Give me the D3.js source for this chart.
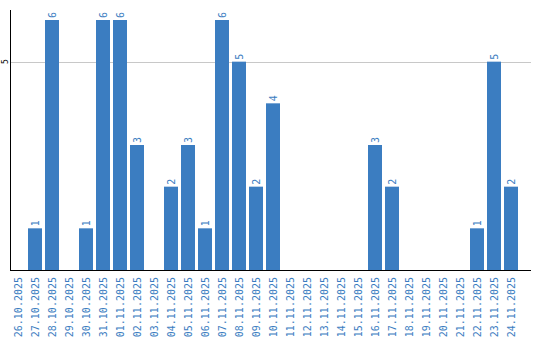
<!DOCTYPE html>
<html><head><meta charset="utf-8">
<script src="https://cdn.jsdelivr.net/npm/d3@7"></script>
<style>body{margin:0;background:#fff}</style>
</head><body><svg id="c" width="540" height="340"></svg>
<script>
const dates = ["26.10.2025","27.10.2025","28.10.2025","29.10.2025","30.10.2025","31.10.2025","01.11.2025","02.11.2025","03.11.2025","04.11.2025","05.11.2025","06.11.2025","07.11.2025","08.11.2025","09.11.2025","10.11.2025","11.11.2025","12.11.2025","13.11.2025","14.11.2025","15.11.2025","16.11.2025","17.11.2025","18.11.2025","19.11.2025","20.11.2025","21.11.2025","22.11.2025","23.11.2025","24.11.2025"];
const values = [0,1,6,0,1,6,6,3,0,2,3,1,6,5,2,4,0,0,0,0,0,3,2,0,0,0,0,1,5,2];
const yTicks = [5];

const svg = d3.select("#c");
const blue = "#3b7dc1";
const left = 11, bottom = 270;
const x = d3.scaleBand().domain(dates).range([left, left + 17*30]).paddingInner(3/17).paddingOuter(0).align(0);
const y = d3.scaleLinear().domain([0, 6.24]).range([bottom, 10]);

// gridline
svg.selectAll("line.grid").data(yTicks).enter().append("line")
  .attr("x1", left).attr("x2", 531).attr("y1", d => Math.round(y(d))+0.5).attr("y2", d => Math.round(y(d))+0.5)
  .attr("stroke", "#c8c8c8").attr("stroke-width", 1);

// y tick labels
svg.selectAll("text.yt").data(yTicks).enter().append("text")
  .attr("transform", d => `translate(8,${y(d)}) rotate(-90)`)
  .attr("text-anchor", "middle").attr("font-family", "DejaVu Sans Mono, monospace").attr("font-size", 8)
  .attr("fill", "#000").text(d => d);

// bars
const bw = 14;
svg.selectAll("rect").data(values).enter().append("rect")
  .attr("x", (d,i) => left + i*17)
  .attr("width", bw)
  .attr("y", d => y(d)).attr("height", d => bottom - y(d))
  .attr("fill", blue);

// value labels
svg.selectAll("text.v").data(values.map((v,i)=>({v,i})).filter(d=>d.v>0)).enter().append("text")
  .attr("transform", d => `translate(${left + d.i*17 + bw/2 + 3.5},${y(d.v) - 2}) rotate(-90)`)
  .attr("text-anchor", "start").attr("font-family", "DejaVu Sans Mono, monospace").attr("font-size", 10)
  .attr("fill", blue).text(d => d.v);

// axes lines
svg.append("line").attr("x1", left-0.5).attr("x2", left-0.5).attr("y1", 10).attr("y2", bottom+1).attr("stroke", "#000").attr("stroke-width", 1);
svg.append("line").attr("x1", left-1).attr("x2", 531).attr("y1", bottom+0.5).attr("y2", bottom+0.5).attr("stroke", "#000").attr("stroke-width", 1);

// x labels
svg.selectAll("text.xl").data(dates).enter().append("text")
  .attr("transform", (d,i) => `translate(${left + i*17 + bw/2 + 3.5},277) rotate(-90)`)
  .attr("text-anchor", "end").attr("font-family", "DejaVu Sans Mono, monospace").attr("font-size", 10)
  .attr("fill", blue).text(d => d);
</script></body></html>
